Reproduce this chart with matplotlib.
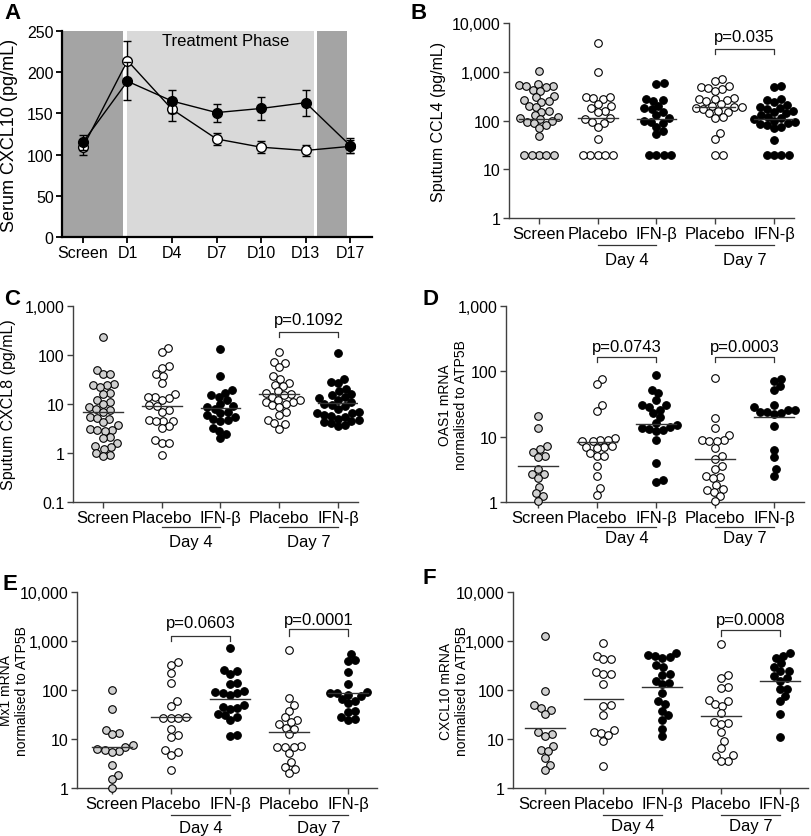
import matplotlib
matplotlib.use("Agg")
import matplotlib.pyplot as plt
import numpy as np
from matplotlib.transforms import blended_transform_factory

plt.rcParams['font.family'] = ['Liberation Sans', 'DejaVu Sans']

# ---- panel A: serum CXCL10 time course ----
days = ["Screen", "D1", "D4", "D7", "D10", "D13", "D17"]
placebo_mean = [109, 214, 155, 119, 109, 105, 110]
placebo_err = [9, 24, 14, 7, 7, 7, 8]
ifn_mean = [115, 189, 165, 151, 156, 163, 111]
ifn_err = [9, 23, 14, 11, 14, 16, 9]

# ---- dot plots ----
groups = ["Screen", "Placebo", "IFN-β", "Placebo", "IFN-β"]
group_fill = ['#d0d0d0', 'white', 'black', 'white', 'black']

ccl4_screen = [1050, 560, 540, 520, 500, 480, 420, 400, 320, 300, 260, 250, 240, 200, 190, 160,
               150, 130, 120, 110, 105, 100, 95, 90, 80, 70, 48, 20, 20, 20, 20, 20]
ccl4_pla4 = [3800, 1000, 300, 290, 280, 300, 220, 200, 180, 160, 150, 110, 105, 95, 90, 75, 42,
             20, 20, 20, 20, 20]
ccl4_ifn4 = [600, 550, 280, 260, 250, 200, 180, 170, 150, 130, 110, 100, 95, 90, 75, 60, 52,
             20, 20, 20, 20]
ccl4_pla7 = [700, 650, 510, 480, 460, 440, 400, 290, 280, 270, 260, 250, 220, 200, 190, 185, 180,
             175, 160, 150, 140, 120, 115, 55, 42, 20, 20]
ccl4_ifn7 = [500, 480, 270, 260, 240, 210, 190, 180, 170, 160, 150, 140, 130, 120, 110, 105, 100,
             95, 90, 85, 80, 75, 70, 40, 20, 20, 20, 20]
ccl4_median = [105, 115, 107, 190, 105]

cxcl8_screen = [230, 50, 40, 40, 26, 25, 24, 22, 17, 16, 12, 11, 10, 8.5, 8, 7.5, 6.8, 5.5, 5.2, 5,
                4.2, 3.8, 3.1, 3, 2.9, 2.8, 2.1, 2, 1.6, 1.4, 1.3, 1.2, 1.0, 0.9, 0.85]
cxcl8_pla4 = [140, 115, 60, 55, 40, 38, 27, 16, 14, 14, 13, 12, 9.5, 9, 7.5, 7, 4.8, 4.6, 4.5, 4.5,
              3.5, 3.2, 1.8, 1.6, 1.6, 0.9]
cxcl8_ifn4 = [133, 38, 19, 17, 15, 14, 12, 10, 9, 8.5, 8, 7, 6.5, 6, 5.5, 5, 4.8, 4.5, 3.3, 2.85,
              2.5, 2.0]
cxcl8_pla7 = [113, 71, 68, 56, 38, 33, 27, 25, 23, 18, 17, 16, 15, 14, 12, 12, 11, 11, 10, 9.5,
              8.5, 7, 6, 4.8, 4, 3.9, 3.1]
cxcl8_ifn7 = [110, 32, 28, 27, 20, 18, 16, 15, 14, 13, 12, 11, 10, 9.5, 9, 8, 7, 6.5, 6.5, 6, 5.8,
              5.5, 5, 4.8, 4.5, 4.2, 4, 3.7, 3.5]
cxcl8_median = [6.8, 9.2, 8.3, 16, 10.5]

oas1_screen = [21, 13.5, 7.2, 6.5, 5.9, 5.0, 4.8, 3.2, 2.7, 2.7, 2.3, 1.7, 1.35, 1.25, 1.05]
oas1_pla4 = [76, 64, 30, 25, 9.5, 9, 8.8, 8.7, 8.5, 7.2, 7, 7, 6.8, 5.6, 5, 5, 3.5, 2.5, 1.65, 1.3]
oas1_ifn4 = [88, 52, 46, 36, 31, 30, 28, 26, 23, 20, 16, 15, 14, 13.5, 13, 12.5, 12, 8.8, 4.0,
             2.2, 2.05]
oas1_pla7 = [78, 19, 13.5, 10.5, 9, 8.8, 8.6, 8.5, 6.6, 5.0, 4.5, 3.5, 3.2, 2.5, 2.4, 2.3, 1.8,
             1.6, 1.5, 1.4, 1.25, 1.05]
oas1_ifn7 = [77, 70, 59, 52, 30, 28, 26, 26, 24, 24, 23, 22, 14.7, 6.3, 4.8, 3.2, 2.5]
oas1_median = [3.6, 8.3, 15.6, 4.5, 19.8]

mx1_screen = [100, 40, 15.5, 13.5, 12.8, 7.5, 7, 6.3, 6, 5.8, 5.5, 3.0, 1.8, 1.5, 1.0]
mx1_pla4 = [380, 330, 220, 140, 60, 48, 28, 27, 27, 27, 16, 11.8, 10.8, 6.0, 5.5, 4.8, 2.3]
mx1_ifn4 = [720, 260, 240, 210, 140, 130, 95, 92, 88, 85, 80, 50, 46, 42, 40, 33, 31, 28, 24, 12,
            11.4]
mx1_pla7 = [665, 68, 50, 38, 28, 25, 22, 20, 17, 16, 12.5, 7.1, 7, 6.9, 6.8, 5.2, 3.4, 2.7, 2.4, 2.0]
mx1_ifn7 = [540, 400, 390, 235, 130, 90, 88, 85, 80, 75, 65, 60, 55, 38, 36, 28, 26, 24]
mx1_median = [6.8, 27.6, 65, 13.7, 85]

cxcl10_screen = [1290, 96, 50, 43, 39, 32, 13.6, 12.8, 11.5, 7.2, 5.9, 5.6, 4.1, 2.9, 2.3]
cxcl10_pla4 = [890, 500, 430, 420, 230, 210, 210, 133, 50, 48, 31, 15, 14, 13.5, 12, 9.2, 2.8]
cxcl10_ifn4 = [560, 520, 500, 470, 450, 330, 290, 215, 205, 150, 140, 130, 86, 60, 51, 37, 31, 25,
               16, 11.3]
cxcl10_pla7 = [870, 204, 174, 116, 110, 63, 59, 52, 48, 34, 22, 21, 20, 13.8, 9.2, 6.7, 4.7, 4.5,
               3.6, 3.5]
cxcl10_ifn7 = [560, 500, 450, 355, 300, 245, 240, 195, 175, 155, 107, 105, 76, 60, 33, 11]
cxcl10_median = [17, 65, 113, 29, 150]

# brackets: (group a, group b, bottom, top, text y, label)
ccl4_brackets = [(3, 4, 2300, 2930, 5400, "p=0.035")]
cxcl8_brackets = [(3, 4, 229, 290, 540, "p=0.1092")]
oas1_brackets = [(1, 2, 138, 164, 240, "p=0.0743"), (3, 4, 138, 164, 240, "p=0.0003")]
mx1_brackets = [(1, 2, 1010, 1290, 2380, "p=0.0603"), (3, 4, 1290, 1760, 2800, "p=0.0001")]
cxcl10_brackets = [(3, 4, 1290, 1700, 2800, "p=0.0008")]

W, H = 812, 837
fig = plt.figure(figsize=(W / 100, H / 100), dpi=100)


def px_axes(l, r, t, b):
    return fig.add_axes([l / W, 1 - b / H, (r - l) / W, (b - t) / H])


def swarm(ys, d):
    xs = np.zeros(len(ys))
    placed = []
    for i in np.argsort(ys, kind='stable'):
        y = ys[i]
        cands = [0.0]
        for px, py in placed:
            dy = y - py
            if abs(dy) < d:
                dx = np.sqrt(d * d - dy * dy)
                cands += [px + dx, px - dx]
        cands.sort(key=lambda c: (round(abs(c), 6), c < 0))
        for c in cands:
            if all((c - px) ** 2 + (y - py) ** 2 >= d * d - 1e-6 for px, py in placed):
                xs[i] = c
                break
        placed.append((xs[i], y))
    return xs


axis_col = '#404040'


def dotplot(ax, data, medians, ylim, yticks, yticklabels, ylabel, ylab_x, brackets,
            xlim, line_y, day_y):
    ax.set_yscale('log')
    ax.set_xlim(*xlim)
    ax.set_ylim(*ylim)
    for s in ['top', 'right']:
        ax.spines[s].set_visible(False)
    for s in ['left', 'bottom']:
        ax.spines[s].set_color(axis_col)
        ax.spines[s].set_linewidth(1.0)
    ax.set_yticks(yticks)
    ax.set_yticklabels(yticklabels, fontsize=11.5)
    ax.yaxis.set_minor_locator(matplotlib.ticker.NullLocator())
    ax.set_xticks(range(len(groups)))
    ax.set_xticklabels(groups, fontsize=12)
    ax.tick_params(length=4, width=1, color=axis_col, pad=2)
    fs = 10 if '\n' in ylabel else 11.5
    ax.set_ylabel(ylabel, fontsize=fs, linespacing=1.1, va='center')
    ax.yaxis.set_label_coords(ylab_x, 0.5)

    d = 7.4  # marker diameter in pixels
    for i, vals in enumerate(data):
        vals = np.asarray(vals, dtype=float)
        disp = ax.transData.transform(np.column_stack([np.full(len(vals), i), vals]))
        offs = swarm(disp[:, 1], d)
        xd = ax.transData.inverted().transform(np.column_stack([disp[:, 0] + offs, disp[:, 1]]))[:, 0]
        ax.scatter(xd, vals, s=30, facecolor=group_fill[i], edgecolor='black',
                   linewidth=0.8, zorder=3, clip_on=False)
        ax.plot([i - 0.34, i + 0.34], [medians[i], medians[i]], color='#333333', lw=1.0, zorder=4)

    for a, b, lo, hi, ty, lab in brackets:
        ax.plot([a, a, b, b], [lo, hi, hi, lo], color='#333333', lw=0.9, clip_on=False)
        ax.text((a + b) / 2, ty, lab, ha='center', va='center', fontsize=12)

    tr = blended_transform_factory(ax.transData, ax.transAxes)
    for a, b, lab in [(1, 2, "Day 4"), (3, 4, "Day 7")]:
        ax.plot([a, b], [line_y, line_y], color='#333333', lw=0.9, transform=tr, clip_on=False)
        ax.text((a + b) / 2, day_y, lab, transform=tr, ha='center', va='center', fontsize=12)


# ---- panel A ----
axA = px_axes(62, 372, 32, 238)
x = np.arange(len(days))
axA.set_xlim(-0.47, 6.49)
axA.set_ylim(0, 250)
axA.axvspan(-0.47, 0.9, color='#a4a4a4', lw=0, zorder=0)
axA.axvspan(1.0, 5.19, color='#d9d9d9', lw=0, zorder=0)
axA.axvspan(5.25, 5.92, color='#a4a4a4', lw=0, zorder=0)
axA.text(3.2, 238, "Treatment Phase", ha='center', va='center', fontsize=12)
axA.errorbar(x, placebo_mean, yerr=placebo_err, color='black', lw=1, capsize=3, elinewidth=1,
             marker='o', ms=7, mfc='white', mec='black', mew=1, zorder=3, clip_on=False)
axA.errorbar(x, ifn_mean, yerr=ifn_err, color='black', lw=1, capsize=3, elinewidth=1,
             marker='o', ms=7, mfc='black', mec='black', zorder=4, clip_on=False)
for s in ['top', 'right']:
    axA.spines[s].set_visible(False)
for s in ['left', 'bottom']:
    axA.spines[s].set_linewidth(1.6)
axA.set_xticks(x)
axA.set_xticklabels(days, fontsize=11.5)
axA.set_yticks(range(0, 251, 50))
axA.tick_params(labelsize=11.5, length=4, width=1.3, pad=2)
axA.set_ylabel("Serum CXCL10 (pg/mL)", fontsize=13, va='center')
axA.yaxis.set_label_coords(-0.168, 0.5)

# ---- dot panels ----
axB = px_axes(509, 794, 24, 219)
dotplot(axB, [ccl4_screen, ccl4_pla4, ccl4_ifn4, ccl4_pla7, ccl4_ifn7], ccl4_median,
        (1, 10000), [1, 10, 100, 1000, 10000], ["1", "10", "100", "1,000", "10,000"],
        "Sputum CCL4 (pg/mL)", -0.249, ccl4_brackets, (-0.51, 4.34), -0.138, -0.215)

axC = px_axes(73, 358, 307, 503)
dotplot(axC, [cxcl8_screen, cxcl8_pla4, cxcl8_ifn4, cxcl8_pla7, cxcl8_ifn7], cxcl8_median,
        (0.1, 1000), [0.1, 1, 10, 100, 1000], ["0.1", "1", "10", "100", "1,000"],
        "Sputum CXCL8 (pg/mL)", -0.228, cxcl8_brackets, (-0.51, 4.34), -0.128, -0.204)

axD = px_axes(506, 804, 307, 503)
dotplot(axD, [oas1_screen, oas1_pla4, oas1_ifn4, oas1_pla7, oas1_ifn7], oas1_median,
        (1, 1000), [1, 10, 100, 1000], ["1", "10", "100", "1,000"],
        "OAS1 mRNA\nnormalised to ATP5B", -0.178, oas1_brackets, (-0.54, 4.51), -0.128, -0.18)

axE = px_axes(77, 377, 593, 789)
dotplot(axE, [mx1_screen, mx1_pla4, mx1_ifn4, mx1_pla7, mx1_ifn7], mx1_median,
        (1, 10000), [1, 10, 100, 1000, 10000], ["1", "10", "100", "1,000", "10,000"],
        "Mx1 mRNA\nnormalised to ATP5B", -0.21, mx1_brackets, (-0.59, 4.49), -0.138, -0.2)

axF = px_axes(513, 808, 593, 789)
dotplot(axF, [cxcl10_screen, cxcl10_pla4, cxcl10_ifn4, cxcl10_pla7, cxcl10_ifn7], cxcl10_median,
        (1, 10000), [1, 10, 100, 1000, 10000], ["1", "10", "100", "1,000", "10,000"],
        "CXCL10 mRNA\nnormalised to ATP5B", -0.2, cxcl10_brackets, (-0.54, 4.48), -0.138, -0.19)

# panel letters
for lab, px, py in [("A", 4, 3), ("B", 411, 3), ("C", 4, 289), ("D", 423, 289),
                    ("E", 3, 574), ("F", 423, 568)]:
    fig.text(px / W, 1 - py / H, lab, fontsize=16, fontweight='bold', ha='left', va='top')

fig.savefig("out.png", dpi=100)
